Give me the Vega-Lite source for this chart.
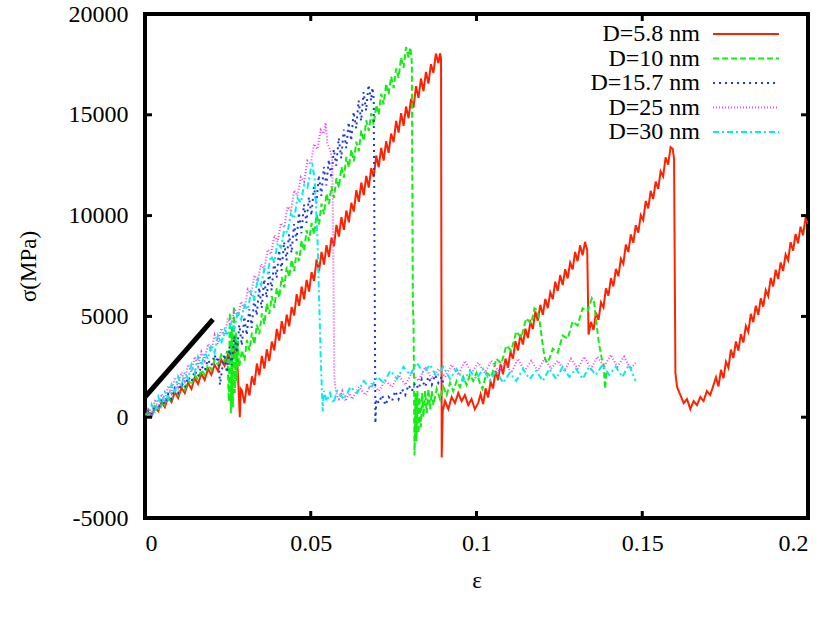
{
  "$schema": "https://vega.github.io/schema/vega-lite/v6.json",
  "width": 663,
  "height": 504,
  "autosize": "none",
  "padding": {"left": 145, "top": 14, "right": 20, "bottom": 106},
  "background": "white",
  "config": {
    "view": {"stroke": "black", "strokeWidth": 4},
    "font": "Liberation Serif",
    "axis": {"labelFont": "Liberation Serif", "titleFont": "Liberation Serif", "labelFontSize": 24, "titleFontSize": 23, "titleFontWeight": "normal", "labelColor": "black", "titleColor": "black", "grid": false, "domain": false, "ticks": false},
    "legend": {"title": null, "padding": 0, "labelFont": "Liberation Serif", "labelFontSize": 24, "labelColor": "black", "symbolType": "M-4,0H4", "symbolSize": 272, "symbolStrokeWidth": 2, "symbolFillColor": "transparent", "labelAlign": "right", "labelOffset": -58, "rowPadding": 0.5}
  },
  "resolve": {"axis": {"x": "independent", "y": "independent"}},
  "datasets": {
    "ref": [{"x": 0, "y": 1000}, {"x": 0.0205, "y": 4850}],
    "xt": [{"x": 0.05}, {"x": 0.1}, {"x": 0.15}],
    "yt": [{"y": 0}, {"y": 5000}, {"y": 10000}, {"y": 15000}],
    "d58": [
      {"x":0,"y":0},{"x":0.001,"y":250},{"x":0.002,"y":50},{"x":0.003,"y":500},{"x":0.004,"y":300},{"x":0.005,"y":750},{"x":0.006,"y":500},{"x":0.007,"y":1000},{"x":0.008,"y":750},{"x":0.009,"y":1250},{"x":0.010,"y":950},{"x":0.011,"y":1450},{"x":0.012,"y":1200},{"x":0.013,"y":1700},{"x":0.014,"y":1400},{"x":0.015,"y":1950},{"x":0.016,"y":1650},{"x":0.017,"y":2150},{"x":0.018,"y":1850},{"x":0.019,"y":2400},{"x":0.020,"y":2100},{"x":0.021,"y":2600},{"x":0.022,"y":2300},{"x":0.023,"y":2850},{"x":0.024,"y":2550},{"x":0.025,"y":3100},{"x":0.026,"y":2800},{"x":0.027,"y":3300},{"x":0.0278,"y":2900},{"x":0.0282,"y":1500},{"x":0.0286,"y":0},{"x":0.0289,"y":1400},
      {"x":0.02925,"y":1320},{"x":0.0300,"y":690},{"x":0.03075,"y":1650},{"x":0.0315,"y":1070},{"x":0.03225,"y":2030},{"x":0.0330,"y":1600},{"x":0.03375,"y":2660},{"x":0.0345,"y":2080},{"x":0.03525,"y":3040},{"x":0.0360,"y":2410},{"x":0.03675,"y":3370},{"x":0.0375,"y":2790},{"x":0.03825,"y":3750},{"x":0.0390,"y":3320},{"x":0.03975,"y":4380},{"x":0.0405,"y":3800},{"x":0.04125,"y":4760},{"x":0.0420,"y":4130},{"x":0.04275,"y":5090},{"x":0.0435,"y":4510},{"x":0.04425,"y":5470},{"x":0.0450,"y":5040},{"x":0.04575,"y":6100},{"x":0.0465,"y":5520},{"x":0.04725,"y":6480},{"x":0.0480,"y":5850},{"x":0.04875,"y":6810},{"x":0.0495,"y":6230},{"x":0.05025,"y":7190},{"x":0.0510,"y":6760},{"x":0.05175,"y":7820},{"x":0.0525,"y":7240},{"x":0.05325,"y":8200},{"x":0.0540,"y":7570},{"x":0.05475,"y":8530},{"x":0.0555,"y":7950},{"x":0.05625,"y":8910},{"x":0.0570,"y":8480},{"x":0.05775,"y":9540},{"x":0.0585,"y":8960},{"x":0.05925,"y":9920},{"x":0.0600,"y":9290},{"x":0.06075,"y":10250},{"x":0.0615,"y":9670},{"x":0.06225,"y":10630},{"x":0.0630,"y":10200},{"x":0.06375,"y":11260},{"x":0.0645,"y":10680},{"x":0.06525,"y":11640},{"x":0.0660,"y":11010},{"x":0.06675,"y":11970},{"x":0.0675,"y":11390},{"x":0.06825,"y":12350},{"x":0.0690,"y":11920},{"x":0.06975,"y":12980},{"x":0.0705,"y":12400},{"x":0.07125,"y":13360},{"x":0.0720,"y":12730},{"x":0.07275,"y":13690},{"x":0.0735,"y":13110},{"x":0.07425,"y":14070},{"x":0.0750,"y":13640},{"x":0.07575,"y":14700},{"x":0.0765,"y":14120},{"x":0.07725,"y":15080},{"x":0.0780,"y":14450},{"x":0.07875,"y":15410},{"x":0.0795,"y":14830},{"x":0.08025,"y":15790},{"x":0.0810,"y":15360},{"x":0.08175,"y":16420},{"x":0.0825,"y":15840},{"x":0.08325,"y":16800},{"x":0.0840,"y":16170},{"x":0.08475,"y":17130},{"x":0.0855,"y":16550},{"x":0.08625,"y":17510},{"x":0.0870,"y":17080},{"x":0.08775,"y":18040},{"x":0.0885,"y":17560},{"x":0.0890,"y":18050},{"x":0.0893,"y":17800},{"x":0.0895,"y":-2000},{"x":0.0898,"y":300},
      {"x":0.0905,"y":800},{"x":0.0915,"y":400},{"x":0.0925,"y":1000},{"x":0.0935,"y":700},{"x":0.0945,"y":1200},{"x":0.0955,"y":800},{"x":0.0965,"y":1100},{"x":0.0975,"y":600},{"x":0.0985,"y":900},{"x":0.0995,"y":400},{"x":0.1005,"y":700},
      {"x":0.10125,"y":1145},{"x":0.1020,"y":649},{"x":0.10275,"y":1434},{"x":0.1035,"y":978},{"x":0.10425,"y":1763},{"x":0.1050,"y":1427},{"x":0.10575,"y":2292},{"x":0.1065,"y":1836},{"x":0.10725,"y":2621},{"x":0.1080,"y":2125},{"x":0.10875,"y":2910},{"x":0.1095,"y":2454},{"x":0.11025,"y":3239},{"x":0.1110,"y":2903},{"x":0.11175,"y":3768},{"x":0.1125,"y":3312},{"x":0.11325,"y":4097},{"x":0.1140,"y":3601},{"x":0.11475,"y":4386},{"x":0.1155,"y":3930},{"x":0.11625,"y":4715},{"x":0.1170,"y":4379},{"x":0.11775,"y":5244},{"x":0.1185,"y":4788},{"x":0.11925,"y":5573},{"x":0.1200,"y":5077},{"x":0.12075,"y":5862},{"x":0.1215,"y":5406},{"x":0.12225,"y":6191},{"x":0.1230,"y":5855},{"x":0.12375,"y":6720},{"x":0.1245,"y":6264},{"x":0.12525,"y":7049},{"x":0.1260,"y":6553},{"x":0.12675,"y":7338},{"x":0.1275,"y":6882},{"x":0.12825,"y":7667},{"x":0.1290,"y":7331},{"x":0.12975,"y":8196},{"x":0.1305,"y":7740},{"x":0.13125,"y":8525},{"x":0.1320,"y":8029},{"x":0.13275,"y":8700},{"x":0.1331,"y":8450},{"x":0.1334,"y":8300},{"x":0.1338,"y":4100},
      {"x":0.13455,"y":4731},{"x":0.1353,"y":4322},{"x":0.13605,"y":5192},{"x":0.1368,"y":4823},{"x":0.13755,"y":5694},{"x":0.1383,"y":5445},{"x":0.13905,"y":6395},{"x":0.1398,"y":6026},{"x":0.14055,"y":6897},{"x":0.1413,"y":6488},{"x":0.14205,"y":7358},{"x":0.1428,"y":6989},{"x":0.14355,"y":7860},{"x":0.1443,"y":7611},{"x":0.14505,"y":8561},{"x":0.1458,"y":8192},{"x":0.14655,"y":9063},{"x":0.1473,"y":8654},{"x":0.14805,"y":9524},{"x":0.1488,"y":9155},{"x":0.14955,"y":10026},{"x":0.1503,"y":9777},{"x":0.15105,"y":10727},{"x":0.1518,"y":10358},{"x":0.15255,"y":11229},{"x":0.1533,"y":10820},{"x":0.15405,"y":11690},{"x":0.1548,"y":11321},{"x":0.15555,"y":12192},{"x":0.1563,"y":11943},{"x":0.15705,"y":12893},{"x":0.1578,"y":12524},{"x":0.15855,"y":13395},{"x":0.1592,"y":13300},{"x":0.1596,"y":12800},{"x":0.1600,"y":2200},
      {"x":0.1605,"y":1500},{"x":0.1615,"y":1100},{"x":0.1625,"y":700},{"x":0.1635,"y":900},{"x":0.1645,"y":400},{"x":0.1655,"y":800},{"x":0.1665,"y":600},{"x":0.1675,"y":1000},{"x":0.1685,"y":800},{"x":0.1695,"y":1300},{"x":0.1705,"y":1100},{"x":0.1715,"y":1600},
      {"x":0.17225,"y":1982},{"x":0.1730,"y":1524},{"x":0.17375,"y":2346},{"x":0.1745,"y":1928},{"x":0.17525,"y":2750},{"x":0.1760,"y":2452},{"x":0.17675,"y":3354},{"x":0.1775,"y":2936},{"x":0.17825,"y":3758},{"x":0.1790,"y":3300},{"x":0.17975,"y":4122},{"x":0.1805,"y":3704},{"x":0.18125,"y":4526},{"x":0.1820,"y":4228},{"x":0.18275,"y":5130},{"x":0.1835,"y":4712},{"x":0.18425,"y":5534},{"x":0.1850,"y":5076},{"x":0.18575,"y":5898},{"x":0.1865,"y":5480},{"x":0.18725,"y":6302},{"x":0.1880,"y":6004},{"x":0.18875,"y":6906},{"x":0.1895,"y":6488},{"x":0.19025,"y":7310},{"x":0.1910,"y":6852},{"x":0.19175,"y":7674},{"x":0.1925,"y":7256},{"x":0.19325,"y":8078},{"x":0.1940,"y":7780},{"x":0.19475,"y":8682},{"x":0.1955,"y":8264},{"x":0.19625,"y":9086},{"x":0.1970,"y":8628},{"x":0.19775,"y":9450},{"x":0.1985,"y":9032},{"x":0.19925,"y":9854},{"x":0.2000,"y":9600}
    ],
    "d10": [
      {"x":0,"y":0},{"x":0.001,"y":300},{"x":0.002,"y":100},{"x":0.003,"y":550},{"x":0.004,"y":350},{"x":0.005,"y":800},{"x":0.006,"y":600},{"x":0.007,"y":1050},{"x":0.008,"y":850},{"x":0.009,"y":1350},{"x":0.010,"y":1100},{"x":0.011,"y":1600},{"x":0.012,"y":1350},{"x":0.013,"y":1850},{"x":0.014,"y":1600},{"x":0.015,"y":2100},{"x":0.016,"y":1850},{"x":0.017,"y":2350},{"x":0.018,"y":2100},{"x":0.019,"y":2600},{"x":0.020,"y":2350},{"x":0.021,"y":2850},{"x":0.022,"y":2600},{"x":0.023,"y":3100},{"x":0.024,"y":2800},{"x":0.0248,"y":3300},
      {"x":0.0253,"y":800},{"x":0.0256,"y":5200},{"x":0.0259,"y":200},{"x":0.0262,"y":4500},{"x":0.0265,"y":500},{"x":0.0268,"y":5500},{"x":0.0271,"y":1200},{"x":0.0274,"y":4200},{"x":0.0277,"y":1800},{"x":0.0280,"y":3800},{"x":0.0284,"y":2500},
      {"x":0.02925,"y":3327},{"x":0.0300,"y":2804},{"x":0.03075,"y":3831},{"x":0.0315,"y":3308},{"x":0.03225,"y":4185},{"x":0.0330,"y":3612},{"x":0.03375,"y":4589},{"x":0.0345,"y":4116},{"x":0.03525,"y":5143},{"x":0.0360,"y":4620},{"x":0.03675,"y":5647},{"x":0.0375,"y":5124},{"x":0.03825,"y":6001},{"x":0.0390,"y":5428},{"x":0.03975,"y":6405},{"x":0.0405,"y":5932},{"x":0.04125,"y":6959},{"x":0.0420,"y":6436},{"x":0.04275,"y":7463},{"x":0.0435,"y":6940},{"x":0.04425,"y":7817},{"x":0.0450,"y":7244},{"x":0.04575,"y":8221},{"x":0.0465,"y":7748},{"x":0.04725,"y":8775},{"x":0.0480,"y":8252},{"x":0.04875,"y":9279},{"x":0.0495,"y":8756},{"x":0.05025,"y":9633},{"x":0.0510,"y":9060},{"x":0.05175,"y":10037},{"x":0.0525,"y":9564},{"x":0.05325,"y":10591},{"x":0.0540,"y":10068},{"x":0.05475,"y":11095},{"x":0.0555,"y":10572},{"x":0.05625,"y":11449},{"x":0.0570,"y":10876},{"x":0.05775,"y":11853},{"x":0.0585,"y":11380},{"x":0.05925,"y":12407},{"x":0.0600,"y":11884},{"x":0.06075,"y":12911},{"x":0.0615,"y":12388},{"x":0.06225,"y":13265},{"x":0.0630,"y":12692},{"x":0.06375,"y":13669},{"x":0.0645,"y":13196},{"x":0.06525,"y":14223},{"x":0.0660,"y":13700},{"x":0.06675,"y":14727},{"x":0.0675,"y":14204},{"x":0.06825,"y":15081},{"x":0.0690,"y":14508},{"x":0.06975,"y":15485},{"x":0.0705,"y":15012},{"x":0.07125,"y":16039},{"x":0.0720,"y":15516},{"x":0.07275,"y":16543},{"x":0.0735,"y":16020},{"x":0.07425,"y":16897},{"x":0.0750,"y":16324},{"x":0.07575,"y":17301},{"x":0.0765,"y":16828},{"x":0.07725,"y":17855},{"x":0.0780,"y":17332},{"x":0.07875,"y":18359},{"x":0.0795,"y":17836},{"x":0.0800,"y":18350},{"x":0.0803,"y":18000},{"x":0.0805,"y":17500},{"x":0.0808,"y":5500},{"x":0.0810,"y":4800},{"x":0.0813,"y":-1900},
      {"x":0.0816,"y":1200},{"x":0.0819,"y":-1200},{"x":0.0822,"y":1300},{"x":0.0825,"y":-800},{"x":0.0828,"y":1000},{"x":0.0832,"y":-500},{"x":0.0836,"y":1200},{"x":0.0840,"y":0},{"x":0.0845,"y":1300},{"x":0.0850,"y":200},{"x":0.0855,"y":1400},{"x":0.0860,"y":400},{"x":0.0865,"y":1300},{"x":0.0870,"y":600},{"x":0.0880,"y":1400},{"x":0.0890,"y":900},{"x":0.0900,"y":1500},{"x":0.0910,"y":1100},{"x":0.0920,"y":1700},{"x":0.0930,"y":1300},{"x":0.0940,"y":1800},{"x":0.0950,"y":1500},{"x":0.0960,"y":2000},{"x":0.0970,"y":1600},{"x":0.0980,"y":2100},{"x":0.0990,"y":1800},{"x":0.1000,"y":2200},{"x":0.1010,"y":1700},{"x":0.1018,"y":1400},
      {"x":0.1030,"y":2200},{"x":0.1045,"y":2000},{"x":0.1060,"y":2900},{"x":0.1075,"y":2650},{"x":0.1090,"y":3550},{"x":0.1105,"y":3300},{"x":0.1120,"y":4250},{"x":0.1135,"y":3950},{"x":0.1150,"y":4900},{"x":0.1165,"y":4650},{"x":0.1175,"y":5400},{"x":0.1183,"y":5300},{"x":0.1190,"y":4800},{"x":0.1198,"y":3800},{"x":0.1205,"y":3000},{"x":0.1212,"y":2700},{"x":0.1220,"y":2900},
      {"x":0.1230,"y":3400},{"x":0.1245,"y":3200},{"x":0.1260,"y":4050},{"x":0.1275,"y":3900},{"x":0.1290,"y":4750},{"x":0.1305,"y":4550},{"x":0.1320,"y":5400},{"x":0.1335,"y":5250},{"x":0.1348,"y":5900},{"x":0.1355,"y":5700},{"x":0.1362,"y":4600},{"x":0.1370,"y":3600},{"x":0.1378,"y":2900},{"x":0.1383,"y":2700},{"x":0.1388,"y":1400},{"x":0.1392,"y":2300}
    ],
    "d157": [
      {"x":0,"y":0},{"x":0.001,"y":350},{"x":0.002,"y":150},{"x":0.003,"y":600},{"x":0.004,"y":400},{"x":0.005,"y":900},{"x":0.006,"y":650},{"x":0.007,"y":1150},{"x":0.008,"y":900},{"x":0.009,"y":1450},{"x":0.010,"y":1200},{"x":0.011,"y":1700},{"x":0.012,"y":1450},{"x":0.013,"y":2000},{"x":0.014,"y":1750},{"x":0.015,"y":2300},{"x":0.016,"y":2000},{"x":0.017,"y":2550},{"x":0.018,"y":2300},{"x":0.019,"y":2850},{"x":0.020,"y":2550},{"x":0.021,"y":3100},{"x":0.0215,"y":2800},{"x":0.0222,"y":3000},{"x":0.0226,"y":1600},{"x":0.0232,"y":2300},
      {"x":0.02395,"y":3132},{"x":0.0247,"y":2214},{"x":0.02545,"y":3496},{"x":0.0262,"y":2578},{"x":0.02695,"y":4010},{"x":0.0277,"y":3192},{"x":0.02845,"y":4574},{"x":0.0292,"y":3556},{"x":0.02995,"y":4988},{"x":0.0307,"y":4070},{"x":0.03145,"y":5352},{"x":0.0322,"y":4434},{"x":0.03295,"y":5866},{"x":0.0337,"y":5048},{"x":0.03445,"y":6430},{"x":0.0352,"y":5412},{"x":0.03595,"y":6844},{"x":0.0367,"y":5926},{"x":0.03745,"y":7208},{"x":0.0382,"y":6290},{"x":0.03895,"y":7722},{"x":0.0397,"y":6904},{"x":0.04045,"y":8286},{"x":0.0412,"y":7268},{"x":0.04195,"y":8700},{"x":0.0427,"y":7782},{"x":0.04345,"y":9064},{"x":0.0442,"y":8146},{"x":0.04495,"y":9578},{"x":0.0457,"y":8760},{"x":0.04645,"y":10142},{"x":0.0472,"y":9124},{"x":0.04795,"y":10556},{"x":0.0487,"y":9638},{"x":0.04945,"y":10920},{"x":0.0502,"y":10002},{"x":0.05095,"y":11434},{"x":0.0517,"y":10616},{"x":0.05245,"y":11998},{"x":0.0532,"y":10980},{"x":0.05395,"y":12412},{"x":0.0547,"y":11494},{"x":0.05545,"y":12776},{"x":0.0562,"y":11858},{"x":0.05695,"y":13290},{"x":0.0577,"y":12472},{"x":0.05845,"y":13854},{"x":0.0592,"y":12836},{"x":0.05995,"y":14268},{"x":0.0607,"y":13350},{"x":0.06145,"y":14632},{"x":0.0622,"y":13714},{"x":0.06295,"y":15146},{"x":0.0637,"y":14328},{"x":0.06445,"y":15710},{"x":0.0652,"y":14692},{"x":0.06595,"y":16124},{"x":0.0667,"y":15206},{"x":0.06745,"y":16488},{"x":0.0682,"y":15700},{"x":0.0686,"y":16350},{"x":0.0690,"y":15800},{"x":0.0695,"y":-300},
      {"x":0.0698,"y":900},{"x":0.0705,"y":700},{"x":0.0715,"y":1100},{"x":0.0725,"y":600},{"x":0.0735,"y":1000},{"x":0.0745,"y":800},{"x":0.0755,"y":1300},{"x":0.0765,"y":900},{"x":0.0775,"y":1400},{"x":0.0785,"y":1100},{"x":0.0795,"y":1600},{"x":0.0805,"y":1300},{"x":0.0815,"y":1700},{"x":0.0825,"y":1400},{"x":0.0835,"y":1900},{"x":0.0845,"y":1500},{"x":0.0855,"y":2000},{"x":0.0865,"y":1600},{"x":0.0875,"y":2100},{"x":0.0885,"y":1700},{"x":0.0895,"y":2000},{"x":0.0900,"y":1700}
    ],
    "d25": [
      {"x":0,"y":0},{"x":0.001,"y":480},{"x":0.002,"y":110},{"x":0.003,"y":890},{"x":0.004,"y":420},{"x":0.005,"y":1150},{"x":0.006,"y":730},{"x":0.007,"y":1560},{"x":0.008,"y":1190},{"x":0.009,"y":1970},{"x":0.010,"y":1500},{"x":0.011,"y":2220},{"x":0.012,"y":1790},{"x":0.013,"y":2610},{"x":0.014,"y":2230},{"x":0.015,"y":3000},{"x":0.016,"y":2520},{"x":0.017,"y":3240},{"x":0.018,"y":2810},{"x":0.019,"y":3630},{"x":0.020,"y":3250},{"x":0.021,"y":4070},{"x":0.022,"y":3640},{"x":0.023,"y":4410},{"x":0.024,"y":4030},{"x":0.025,"y":4900},{"x":0.026,"y":4570},{"x":0.027,"y":5390},{"x":0.028,"y":4960},{"x":0.029,"y":5730},{"x":0.030,"y":5350},{"x":0.031,"y":6330},{"x":0.032,"y":6110},{"x":0.033,"y":7040},{"x":0.034,"y":6720},{"x":0.035,"y":7600},{"x":0.036,"y":7330},{"x":0.037,"y":8310},{"x":0.038,"y":8090},{"x":0.039,"y":9020},{"x":0.040,"y":8700},{"x":0.041,"y":9630},{"x":0.042,"y":9410},{"x":0.043,"y":10440},{"x":0.044,"y":10270},{"x":0.045,"y":11250},{"x":0.046,"y":10980},{"x":0.047,"y":11910},{"x":0.048,"y":11690},{"x":0.049,"y":12720},{"x":0.050,"y":12550},{"x":0.051,"y":13550},{"x":0.052,"y":13300},{"x":0.053,"y":14250},{"x":0.054,"y":14050},{"x":0.0545,"y":14600},{"x":0.0550,"y":13600},{"x":0.0558,"y":13300},{"x":0.0565,"y":12700},{"x":0.0568,"y":8000},{"x":0.0571,"y":2000},{"x":0.0574,"y":1500},{"x":0.0578,"y":1100},{"x":0.0585,"y":900},{"x":0.0595,"y":1300},{"x":0.0605,"y":800},{"x":0.0615,"y":1200},
      {"x":0.0625,"y":900},{"x":0.0645,"y":1500},{"x":0.0665,"y":1100},{"x":0.0685,"y":1700},{"x":0.0705,"y":1300},{"x":0.0725,"y":1800},{"x":0.0745,"y":1500},{"x":0.0765,"y":2100},{"x":0.0785,"y":1600},{"x":0.0805,"y":2200},{"x":0.0825,"y":1800},{"x":0.0845,"y":2500},{"x":0.0865,"y":1900},{"x":0.0885,"y":2400},{"x":0.0905,"y":2000},{"x":0.0925,"y":2600},{"x":0.0945,"y":2100},{"x":0.0965,"y":2800},{"x":0.0985,"y":2200},{"x":0.1005,"y":2700},{"x":0.1025,"y":2200},{"x":0.1045,"y":2800},{"x":0.1065,"y":2300},{"x":0.1085,"y":2700},{"x":0.1105,"y":2200},{"x":0.1125,"y":2900},{"x":0.1145,"y":2300},{"x":0.1165,"y":2800},{"x":0.1185,"y":2300},{"x":0.1205,"y":2900},{"x":0.1225,"y":2400},{"x":0.1245,"y":2800},{"x":0.1265,"y":2300},{"x":0.1285,"y":2900},{"x":0.1305,"y":2400},{"x":0.1325,"y":3000},{"x":0.1345,"y":2400},{"x":0.1365,"y":3000},{"x":0.1385,"y":2500},{"x":0.1405,"y":3100},{"x":0.1425,"y":2500},{"x":0.1445,"y":3000},{"x":0.1465,"y":2400},{"x":0.1480,"y":2700}
    ],
    "d30": [
      {"x":0,"y":0},{"x":0.001,"y":20},{"x":0.002,"y":630},{"x":0.003,"y":195},{"x":0.004,"y":1010},{"x":0.005,"y":575},{"x":0.006,"y":1240},{"x":0.007,"y":905},{"x":0.008,"y":1620},{"x":0.009,"y":1185},{"x":0.010,"y":2000},{"x":0.011,"y":1565},{"x":0.012,"y":2230},{"x":0.013,"y":1895},{"x":0.014,"y":2610},{"x":0.015,"y":2175},{"x":0.016,"y":2990},{"x":0.017,"y":2555},{"x":0.018,"y":3220},{"x":0.019,"y":2885},{"x":0.020,"y":3600},{"x":0.021,"y":3200},{"x":0.022,"y":4050},{"x":0.023,"y":3650},{"x":0.024,"y":4350},{"x":0.025,"y":4050},{"x":0.026,"y":4800},{"x":0.027,"y":4400},{"x":0.028,"y":5250},{"x":0.029,"y":4850},{"x":0.030,"y":5550},{"x":0.031,"y":5350},{"x":0.032,"y":6200},{"x":0.033,"y":5900},{"x":0.034,"y":6850},{"x":0.035,"y":6550},{"x":0.036,"y":7350},{"x":0.037,"y":7150},{"x":0.038,"y":8000},{"x":0.039,"y":7700},{"x":0.040,"y":8650},{"x":0.041,"y":8420},{"x":0.042,"y":9290},{"x":0.043,"y":9160},{"x":0.044,"y":10080},{"x":0.045,"y":9850},{"x":0.046,"y":10870},{"x":0.047,"y":10640},{"x":0.048,"y":11510},{"x":0.049,"y":11380},{"x":0.050,"y":12300},{"x":0.0505,"y":12500},{"x":0.0512,"y":11800},{"x":0.0520,"y":9000},{"x":0.0525,"y":6000},{"x":0.0530,"y":3000},{"x":0.0536,"y":300},{"x":0.0540,"y":1300},{"x":0.0548,"y":800},{"x":0.0558,"y":1200},{"x":0.0568,"y":700},{"x":0.0580,"y":1300},
      {"x":0.0600,"y":900},{"x":0.0620,"y":1500},{"x":0.0640,"y":1200},{"x":0.0660,"y":1800},{"x":0.0680,"y":1400},{"x":0.0700,"y":2000},{"x":0.0720,"y":1700},{"x":0.0740,"y":2300},{"x":0.0760,"y":1900},{"x":0.0780,"y":2500},{"x":0.0800,"y":2100},{"x":0.0820,"y":2700},{"x":0.0840,"y":2200},{"x":0.0860,"y":2600},{"x":0.0880,"y":2000},{"x":0.0900,"y":2500},{"x":0.0920,"y":1900},{"x":0.0940,"y":2400},{"x":0.0960,"y":1800},{"x":0.0980,"y":2300},{"x":0.1000,"y":1900},{"x":0.1020,"y":2400},{"x":0.1040,"y":1800},{"x":0.1060,"y":2300},{"x":0.1080,"y":1700},{"x":0.1100,"y":2200},{"x":0.1120,"y":1800},{"x":0.1140,"y":2400},{"x":0.1160,"y":1900},{"x":0.1180,"y":2300},{"x":0.1200,"y":1800},{"x":0.1220,"y":2400},{"x":0.1240,"y":1900},{"x":0.1260,"y":2500},{"x":0.1280,"y":2000},{"x":0.1300,"y":2400},{"x":0.1320,"y":1900},{"x":0.1340,"y":2500},{"x":0.1360,"y":2100},{"x":0.1380,"y":2600},{"x":0.1400,"y":2100},{"x":0.1420,"y":2500},{"x":0.1440,"y":2000},{"x":0.1460,"y":2600},{"x":0.1480,"y":1800}
    ]
  },
  "layer": [
    {
      "data": {"name": "d58"},
      "mark": {"type": "line", "strokeWidth": 2, "clip": true},
      "encoding": {
        "x": {"field": "x", "type": "quantitative", "scale": {"domain": [0, 0.2], "nice": false, "zero": false},
          "axis": {"orient": "bottom", "values": [0, 0.05, 0.1, 0.15, 0.2], "format": "~g", "title": "ε", "labelPadding": 13, "titlePadding": 14}},
        "y": {"field": "y", "type": "quantitative", "scale": {"domain": [-5000, 20000], "nice": false, "zero": false},
          "axis": {"orient": "left", "values": [-5000, 0, 5000, 10000, 15000, 20000], "labelExpr": "'' + datum.value", "title": "σ(MPa)", "labelPadding": 17, "titlePadding": 28}},
        "color": {"datum": "D=5.8 nm", "type": "nominal", "scale": {"domain": ["D=5.8 nm", "D=10 nm", "D=15.7 nm", "D=25 nm", "D=30 nm"], "range": ["#ff2200", "#11ee11", "#1a3ad8", "#ee44ee", "#00eeee"]},
          "legend": {"orient": "none", "legendX": 589, "legendY": 8}},
        "strokeDash": {"datum": "D=5.8 nm", "type": "nominal", "scale": {"domain": ["D=5.8 nm", "D=10 nm", "D=15.7 nm", "D=25 nm", "D=30 nm"], "range": [[1, 0], [6, 3], [2, 4], [1, 2], [6, 3, 2, 3]]},
          "legend": {"orient": "none", "legendX": 589, "legendY": 8}}
      }
    },
    {
      "data": {"name": "d10"},
      "mark": {"type": "line", "strokeWidth": 2, "clip": true},
      "encoding": {
        "x": {"field": "x", "type": "quantitative", "axis": null},
        "y": {"field": "y", "type": "quantitative", "axis": null},
        "color": {"datum": "D=10 nm", "type": "nominal"},
        "strokeDash": {"datum": "D=10 nm", "type": "nominal"}
      }
    },
    {
      "data": {"name": "d157"},
      "mark": {"type": "line", "strokeWidth": 2, "clip": true},
      "encoding": {
        "x": {"field": "x", "type": "quantitative", "axis": null},
        "y": {"field": "y", "type": "quantitative", "axis": null},
        "color": {"datum": "D=15.7 nm", "type": "nominal"},
        "strokeDash": {"datum": "D=15.7 nm", "type": "nominal"}
      }
    },
    {
      "data": {"name": "d25"},
      "mark": {"type": "line", "strokeWidth": 2, "clip": true},
      "encoding": {
        "x": {"field": "x", "type": "quantitative", "axis": null},
        "y": {"field": "y", "type": "quantitative", "axis": null},
        "color": {"datum": "D=25 nm", "type": "nominal"},
        "strokeDash": {"datum": "D=25 nm", "type": "nominal"}
      }
    },
    {
      "data": {"name": "d30"},
      "mark": {"type": "line", "strokeWidth": 2, "clip": true},
      "encoding": {
        "x": {"field": "x", "type": "quantitative", "axis": null},
        "y": {"field": "y", "type": "quantitative", "axis": null},
        "color": {"datum": "D=30 nm", "type": "nominal"},
        "strokeDash": {"datum": "D=30 nm", "type": "nominal"}
      }
    },
    {
      "data": {"name": "ref"},
      "mark": {"type": "line", "color": "black", "strokeWidth": 5, "clip": true},
      "encoding": {
        "x": {"field": "x", "type": "quantitative", "axis": null},
        "y": {"field": "y", "type": "quantitative", "axis": null}
      }
    },
    {
      "data": {"name": "xt"},
      "mark": {"type": "tick", "orient": "vertical", "size": 14, "thickness": 3, "color": "black", "opacity": 1, "clip": true},
      "encoding": {
        "x": {"field": "x", "type": "quantitative", "axis": null},
        "y": {"datum": -5000, "type": "quantitative", "axis": null}
      }
    },
    {
      "data": {"name": "xt"},
      "mark": {"type": "tick", "orient": "vertical", "size": 14, "thickness": 3, "color": "black", "opacity": 1, "clip": true},
      "encoding": {
        "x": {"field": "x", "type": "quantitative", "axis": null},
        "y": {"datum": 20000, "type": "quantitative", "axis": null}
      }
    },
    {
      "data": {"name": "yt"},
      "mark": {"type": "tick", "orient": "horizontal", "size": 14, "thickness": 3, "color": "black", "opacity": 1, "clip": true},
      "encoding": {
        "y": {"field": "y", "type": "quantitative", "axis": null},
        "x": {"datum": 0, "type": "quantitative", "axis": null}
      }
    },
    {
      "data": {"name": "yt"},
      "mark": {"type": "tick", "orient": "horizontal", "size": 14, "thickness": 3, "color": "black", "opacity": 1, "clip": true},
      "encoding": {
        "y": {"field": "y", "type": "quantitative", "axis": null},
        "x": {"datum": 0.2, "type": "quantitative", "axis": null}
      }
    }
  ]
}
